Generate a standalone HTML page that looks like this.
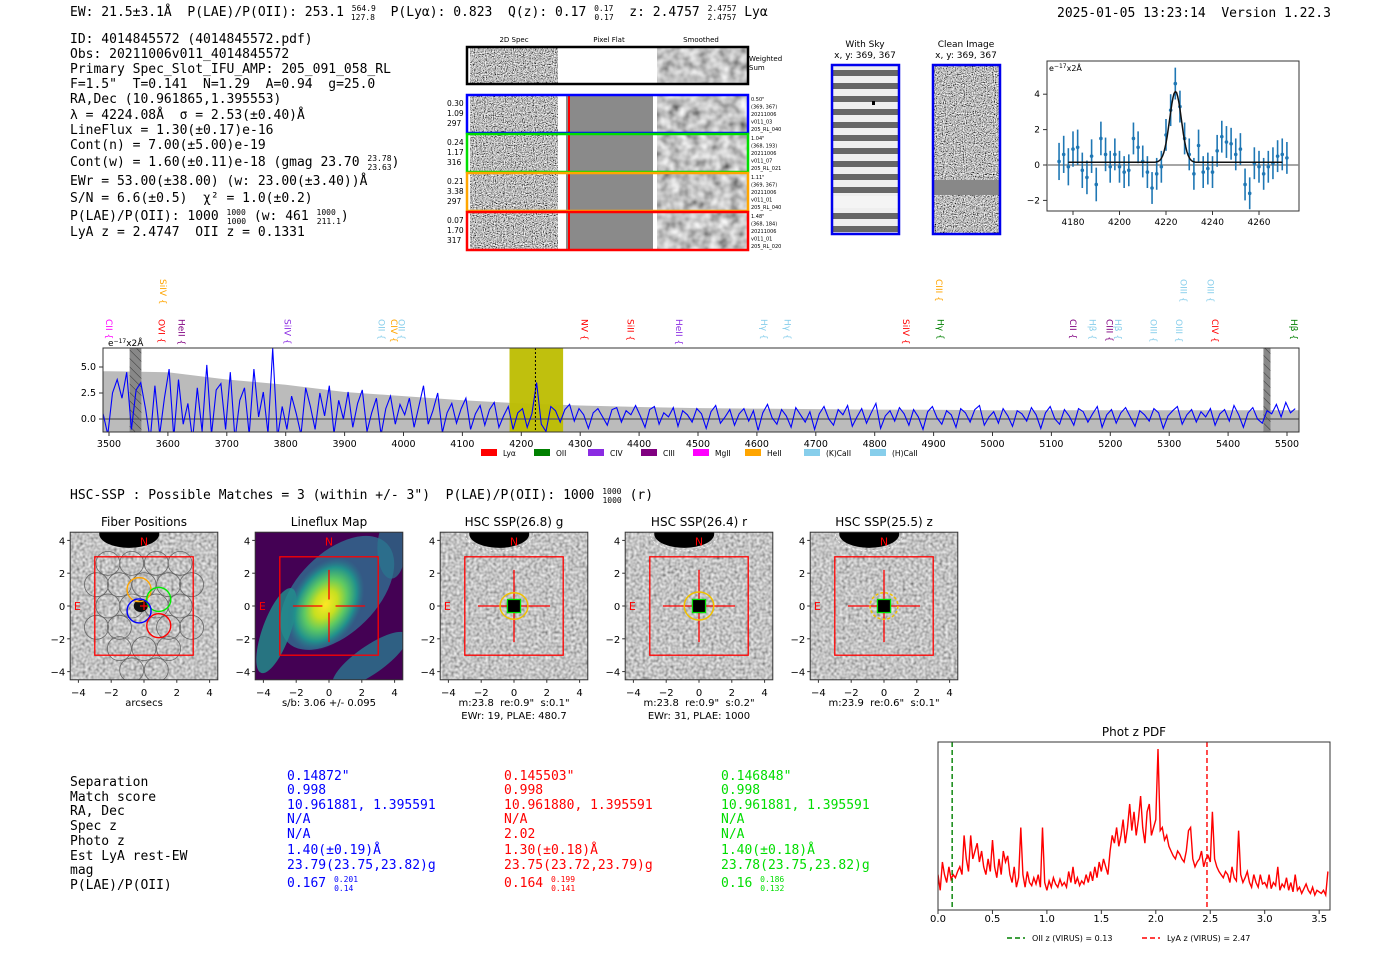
<!DOCTYPE html>
<html><head><meta charset="utf-8"><style>
html,body{margin:0;padding:0;background:#fff;width:1400px;height:953px;overflow:hidden}
svg{position:absolute;left:0;top:0}
text{white-space:pre}
.m{font-family:"DejaVu Sans Mono","Liberation Mono",monospace;font-size:13px}
.s{font-family:"DejaVu Sans","Liberation Sans",sans-serif}
</style></head><body>
<svg id="root" width="1400" height="953" viewBox="0 0 1400 953" xmlns="http://www.w3.org/2000/svg" xml:space="preserve">
<defs>
<filter id="noise" x="0" y="0" width="100%" height="100%"><feTurbulence type="fractalNoise" baseFrequency="0.9" numOctaves="1" seed="3"/><feColorMatrix type="saturate" values="0"/><feComponentTransfer><feFuncR type="linear" slope="3" intercept="-1"/><feFuncG type="linear" slope="3" intercept="-1"/><feFuncB type="linear" slope="3" intercept="-1"/><feFuncA type="linear" slope="0" intercept="1"/></feComponentTransfer></filter>
<filter id="noise2" x="0" y="0" width="100%" height="100%"><feTurbulence type="fractalNoise" baseFrequency="0.35" numOctaves="1" seed="7"/><feColorMatrix type="saturate" values="0"/><feComponentTransfer><feFuncR type="linear" slope="1.3" intercept="-0.1"/><feFuncG type="linear" slope="1.3" intercept="-0.1"/><feFuncB type="linear" slope="1.3" intercept="-0.1"/><feFuncA type="linear" slope="0" intercept="1"/></feComponentTransfer></filter>
<filter id="smooth" x="0" y="0" width="100%" height="100%"><feTurbulence type="fractalNoise" baseFrequency="0.1" numOctaves="2" seed="5"/><feColorMatrix type="saturate" values="0"/><feComponentTransfer><feFuncR type="linear" slope="1.4" intercept="-0.15"/><feFuncG type="linear" slope="1.4" intercept="-0.15"/><feFuncB type="linear" slope="1.4" intercept="-0.15"/><feFuncA type="linear" slope="0" intercept="1"/></feComponentTransfer></filter>
<pattern id="sky" width="10" height="13" patternUnits="userSpaceOnUse"><rect width="10" height="13" fill="#eee"/><rect y="5" width="10" height="6" fill="#666"/></pattern>
<pattern id="hatch" width="6" height="6" patternUnits="userSpaceOnUse" patternTransform="rotate(-45)"><rect width="6" height="6" fill="#888"/><line x1="0" y1="0" x2="0" y2="6" stroke="#333" stroke-width="1"/></pattern>
<radialGradient id="lf" cx="0.5" cy="0.5" r="0.5"><stop offset="0" stop-color="#fde725"/><stop offset="0.3" stop-color="#c8e020"/><stop offset="0.55" stop-color="#5ec962"/><stop offset="0.8" stop-color="#21918c"/><stop offset="1" stop-color="#2a788e" stop-opacity="0"/></radialGradient>
<clipPath id="specclip"><rect x="103" y="348" width="1196" height="84"/></clipPath>
<clipPath id="pdfclip"><rect x="938" y="742" width="392" height="168"/></clipPath>
</defs>

<text class="m" x="70" y="16">EW: 21.5±3.1Å  P(LAE)/P(OII): 253.1 <tspan font-size="8" dy="-5">564.9</tspan><tspan font-size="8" dx="-25" dy="9">127.8</tspan><tspan dy="-4">  P(Lyα): 0.823  Q(z): 0.17 </tspan><tspan font-size="8" dy="-5">0.17</tspan><tspan font-size="8" dx="-19" dy="9">0.17</tspan><tspan dy="-4">  z: 2.4757 </tspan><tspan font-size="8" dy="-5">2.4757</tspan><tspan font-size="8" dx="-29" dy="9">2.4757</tspan><tspan dy="-4"> Lyα</tspan></text>
<text class="m" x="1057" y="17">2025-01-05 13:23:14  Version 1.22.3</text>

<g class="m">
<text x="70" y="43">ID: 4014845572 (4014845572.pdf)</text>
<text x="70" y="58">Obs: 20211006v011_4014845572</text>
<text x="70" y="73">Primary Spec_Slot_IFU_AMP: 205_091_058_RL</text>
<text x="70" y="88">F=1.5"  T=0.141  N=1.29  A=0.94  g=25.0</text>
<text x="70" y="103">RA,Dec (10.961865,1.395553)</text>
<text x="70" y="119">λ = 4224.08Å  σ = 2.53(±0.40)Å</text>
<text x="70" y="134">LineFlux = 1.30(±0.17)e-16</text>
<text x="70" y="149">Cont(n) = 7.00(±5.00)e-19</text>
<text x="70" y="166">Cont(w) = 1.60(±0.11)e-18 (gmag 23.70 <tspan font-size="8" dy="-5">23.78</tspan><tspan font-size="8" dx="-24" dy="9">23.63</tspan><tspan dy="-4">)</tspan></text>
<text x="70" y="185">EWr = 53.00(±38.00) (w: 23.00(±3.40))Å</text>
<text x="70" y="202">S/N = 6.6(±0.5)  χ² = 1.0(±0.2)</text>
<text x="70" y="220">P(LAE)/P(OII): 1000 <tspan font-size="8" dy="-5">1000</tspan><tspan font-size="8" dx="-19" dy="9">1000</tspan><tspan dy="-4"> (w: 461 </tspan><tspan font-size="8" dy="-5">1000</tspan><tspan font-size="8" dx="-19" dy="9">211.1</tspan><tspan dy="-4">)</tspan></text>
<text x="70" y="236">LyA z = 2.4747  OII z = 0.1331</text>
</g>

<g>
<g class="s" font-size="7" text-anchor="middle"><text x="514" y="42">2D Spec</text><text x="609" y="42">Pixel Flat</text><text x="701" y="42">Smoothed</text></g>
<rect x="470" y="48" width="88" height="36" filter="url(#noise)"/>
<rect x="657" y="48" width="90" height="36" filter="url(#smooth)"/>
<rect x="467" y="47" width="281" height="37" fill="none" stroke="#000" stroke-width="2.5"/>
<text class="s" x="749" y="61" font-size="7">Weighted</text><text class="s" x="749" y="70" font-size="7">Sum</text>
<g id="rows"></g>
</g>

<g>
<text class="s" x="865" y="47" font-size="9" text-anchor="middle">With Sky</text>
<text class="s" x="865" y="58" font-size="9" text-anchor="middle">x, y: 369, 367</text>
<rect x="832" y="65" width="67" height="169" fill="url(#sky)"/>
<rect x="832" y="196" width="67" height="12" fill="#f4f4f4"/>
<rect x="872" y="101" width="3" height="4" fill="#000"/>
<rect x="832" y="65" width="67" height="169" fill="none" stroke="#0000ee" stroke-width="2.5"/>
</g>
<g>
<text class="s" x="966" y="47" font-size="9" text-anchor="middle">Clean Image</text>
<text class="s" x="966" y="58" font-size="9" text-anchor="middle">x, y: 369, 367</text>
<rect x="933" y="65" width="67" height="169" filter="url(#noise)"/>
<rect x="933" y="180" width="67" height="15" fill="#888"/>
<rect x="933" y="65" width="67" height="169" fill="none" stroke="#0000ee" stroke-width="2.5"/>
</g>

<g>
<rect x="1047" y="61" width="252" height="150" fill="#fff" stroke="#333"/>
<line x1="1047" x2="1299" y1="165" y2="165" stroke="#888" stroke-width="1.5"/>
<text class="s" x="1049" y="71" font-size="8">e<tspan font-size="6" dy="-3">−17</tspan><tspan dy="3">x2Å</tspan></text>
<g id="fitaxis" class="s" font-size="9"></g>
<g id="fitmarks"></g>
</g>

<g>
<rect x="103" y="348" width="1196" height="84" fill="#fff"/>
<g clip-path="url(#specclip)">
<path id="env" fill="#bbb"/>
<rect id="band" fill="#bdbd00"/>
<rect id="mask1" fill="url(#hatch)"/>
<rect id="mask2" fill="url(#hatch)"/>
<line id="zero" stroke="#555" stroke-width="1.2"/>
<path id="flux" fill="none" stroke="#0000ff" stroke-width="1.1"/>
<line id="cline" stroke="#000" stroke-dasharray="2,2" stroke-width="1"/>
</g>
<rect x="103" y="348" width="1196" height="84" fill="none" stroke="#333"/>
<text class="s" x="108" y="346" font-size="9">e<tspan font-size="6" dy="-3">−17</tspan><tspan dy="3">x2Å</tspan></text>
<g id="specaxis" class="s" font-size="9.5"></g>
<g id="linelabels" class="s" font-size="9"></g>
<g id="speclegend" class="s" font-size="7.5"></g>
</g>

<text class="m" x="70" y="499">HSC-SSP : Possible Matches = 3 (within +/- 3")  P(LAE)/P(OII): 1000 <tspan font-size="8" dy="-5">1000</tspan><tspan font-size="8" dx="-19" dy="9">1000</tspan><tspan dy="-4"> (r)</tspan></text>

<g id="cutouts"></g>

<g class="m">
<g fill="#000"><text x="70" y="786">Separation</text><text x="70" y="801">Match score</text><text x="70" y="815">RA, Dec</text><text x="70" y="830">Spec z</text><text x="70" y="845">Photo z</text><text x="70" y="860">Est LyA rest-EW</text><text x="70" y="874">mag</text><text x="70" y="889">P(LAE)/P(OII)</text></g>
<g fill="#0000ff"><text x="287" y="780">0.14872"</text><text x="287" y="794">0.998</text><text x="287" y="809">10.961881, 1.395591</text><text x="287" y="823">N/A</text><text x="287" y="838">N/A</text><text x="287" y="854">1.40(±0.19)Å</text><text x="287" y="869">23.79(23.75,23.82)g</text><text x="287" y="887">0.167 <tspan font-size="8" dy="-5">0.201</tspan><tspan font-size="8" dx="-24" dy="9">0.14</tspan></text></g>
<g fill="#ff0000"><text x="504" y="780">0.145503"</text><text x="504" y="794">0.998</text><text x="504" y="809">10.961880, 1.395591</text><text x="504" y="823">N/A</text><text x="504" y="838">2.02</text><text x="504" y="854">1.30(±0.18)Å</text><text x="504" y="869">23.75(23.72,23.79)g</text><text x="504" y="887">0.164 <tspan font-size="8" dy="-5">0.199</tspan><tspan font-size="8" dx="-24" dy="9">0.141</tspan></text></g>
<g fill="#00dd00"><text x="721" y="780">0.146848"</text><text x="721" y="794">0.998</text><text x="721" y="809">10.961881, 1.395591</text><text x="721" y="823">N/A</text><text x="721" y="838">N/A</text><text x="721" y="854">1.40(±0.18)Å</text><text x="721" y="869">23.78(23.75,23.82)g</text><text x="721" y="887">0.16 <tspan font-size="8" dy="-5">0.186</tspan><tspan font-size="8" dx="-24" dy="9">0.132</tspan></text></g>
</g>

<g>
<text class="s" x="1134" y="736" font-size="12" text-anchor="middle">Phot z PDF</text>
<g clip-path="url(#pdfclip)"><path id="pdf" fill="none" stroke="#ff0000" stroke-width="1.4"/>
<line id="oiiz" stroke="#008000" stroke-width="1.4" stroke-dasharray="5,3"/>
<line id="lyaz" stroke="#ff0000" stroke-width="1.4" stroke-dasharray="5,3"/></g>
<rect x="938" y="742" width="392" height="168" fill="none" stroke="#333"/>
<g id="pdfaxis" class="s" font-size="10"></g>
<g class="s" font-size="8">
<line x1="1007" x2="1025" y1="938" y2="938" stroke="#008000" stroke-width="1.4" stroke-dasharray="5,3"/><text x="1032" y="941">OII z (VIRUS) = 0.13</text>
<line x1="1142" x2="1160" y1="938" y2="938" stroke="#ff0000" stroke-width="1.4" stroke-dasharray="5,3"/><text x="1167" y="941">LyA z (VIRUS) = 2.47</text>
</g>
</g>
</svg>
<script>
const NS='http://www.w3.org/2000/svg';
function mk(tag,attrs,parent){const e=document.createElementNS(NS,tag);for(const k in attrs)e.setAttribute(k,attrs[k]);if(parent)parent.appendChild(e);return e;}

const specStart=3490, specStep=8;
const fluxEarly=[0.5,-1.5,2.5,3.8,2.0,4.5,-1,2.8,3.5,1.0,-2,3.2,-1.5,2.0,4.8,-1.8,3.8,-0.5,1.5,-2,3.0,-1.2,5.2,-1.5,2.8,3.4,-1.0,4.5,-2.0,1.8,3.0,-1.5,4.8,0.2,2.6,-1.4,6.8,-1.8,1.2];
const fluxMid1=[-1.0,2.2,0.5,-1.5,3.0,1.2,-1.0,2.5,0.3,3.2,-1.4,1.8,0.0,2.6,-0.8,1.5,2.8,-1.2,0.6,2.0,-1.5,1.0,2.2,-0.5,1.4];
const fluxMid2=[0.4,2.0,-0.8,1.2,3.2,-0.5,0.8,2.5,-1.3,0.6,1.5,-0.4,1.0,2.0,-1.0,0.5,1.3,-0.6,0.9,1.6,-0.8,0.3,1.2,-1.0,0.6];
const fluxMid3=[1.0,-0.8,0.5,3.5,-0.5,-1.2,1.2,0.8,-0.3,0.9,1.4,-0.2,1.0,0.4,-0.9,0.6,1.0,0.2,-0.6,0.9,1.1,-0.3,0.8,0.4,1.3];
const fluxLate=[0.3,-0.8,0.9,1.2,-0.5,0.6,0.2,1.1,-0.7,0.8,0.4,-0.3,1.0,0.5,-0.9,0.7,1.3,-0.4,0.2,0.9,
-0.6,0.5,1.0,-0.2,0.8,-1.1,0.6,1.4,0.1,-0.5,0.9,0.3,-0.8,1.1,0.4,-0.3,0.7,-1.0,0.5,1.2,
0.0,-0.6,0.9,0.4,1.3,-0.7,0.2,1.0,-0.4,0.6,1.5,-0.9,0.3,0.8,-0.2,1.1,0.5,-0.6,0.9,0.2,
-1.0,0.7,1.2,0.1,-0.5,0.8,0.4,-0.8,1.0,0.6,-0.3,0.9,1.3,-0.6,0.2,0.7,-0.4,1.0,0.3,-0.7,
0.8,0.5,-0.2,1.1,0.4,-0.9,0.6,1.2,0.0,-0.5,0.9,0.3,-0.6,1.0,0.7,-0.3,0.5,1.2,-0.8,0.4,
0.9,-0.4,0.6,1.1,0.2,-0.7,0.8,0.4,-0.2,1.0,0.6,-0.9,0.3,0.8,1.2,-0.5,0.4,0.9,-0.3,0.7,
0.2,1.0,-0.6,0.5,0.9,-0.2,1.3,0.4,-0.8,0.6,1.1,0.0,-0.4,0.8,0.5,1.4,0.2,1.6,0.6,1.0];
const envWave=[3490,3500,3600,3700,3800,3900,4000,4100,4200,4300,4400,4500,4600,4700,4800,4900,5000,5100,5200,5300,5400,5500,5520];
const envVal=[4.6,4.6,4.5,3.8,3.3,2.6,2.2,1.8,1.5,1.3,1.15,1.05,1.0,0.95,0.9,0.88,0.85,0.85,0.85,0.85,0.85,0.85,0.85];
const specTicks=[3500,3600,3700,3800,3900,4000,4100,4200,4300,4400,4500,4600,4700,4800,4900,5000,5100,5200,5300,5400,5500];
const specYTicks=[0.0,2.5,5.0];
const lineCenter=4224, bandLo=4180, bandHi=4271;
const maskRegions=[[3535,3555],[5460,5472]];
const lineNames=['CII','SiIV','OVI','HeII','SiIV','OII','CIV','OII','NV','SiII','HeII','Hγ','Hγ','SiIV','CIII','Hγ','CII','Hβ','CIII','Hβ','OIII','OIII','OIII','OIII','CIV','Hβ'];
const lineWaves=[3500,3592,3589,3623,3803,3963,3984,3997,4307,4385,4468,4612,4652,4853,4909,4912,5137,5170,5199,5213,5273,5317,5324,5370,5378,5512];
const lineTier=[0,1,0,0,0,0,0,0,0,0,0,0,0,0,1,0,0,0,0,0,0,0,1,1,0,0];
const lineColors=['#ff00ff','#ffa500','#ff0000','#800080','#8a2be2','#87ceeb','#ffa500','#87ceeb','#ff0000','#ff0000','#8a2be2','#87ceeb','#87ceeb','#ff0000','#ffa500','#008000','#800080','#87ceeb','#800080','#87ceeb','#87ceeb','#87ceeb','#87ceeb','#87ceeb','#ff0000','#008000'];
const legendNames=['Lyα','OII','CIV','CIII','MgII','HeII','(K)CaII','(H)CaII'];
const legendColors=['#ff0000','#008000','#8a2be2','#800080','#ff00ff','#ffa500','#87ceeb','#87ceeb'];

const sx=w=>109+(w-3500)*0.589, sy=v=>419-v*10.4;
const flux=[].concat(fluxEarly,fluxMid1,fluxMid2,fluxMid3,fluxLate);
let d='';flux.forEach((v,i)=>{d+=(i?'L':'M')+sx(specStart+i*specStep).toFixed(1)+','+sy(v).toFixed(1);});
document.getElementById('flux').setAttribute('d',d);
let e='M'+sx(envWave[0])+','+sy(-2);envWave.forEach((w,i)=>{e+='L'+sx(w).toFixed(1)+','+sy(envVal[i]).toFixed(1);});e+='L'+sx(5520)+','+sy(-2)+'Z';
document.getElementById('env').setAttribute('d',e);
const band=document.getElementById('band');band.setAttribute('x',sx(bandLo));band.setAttribute('width',sx(bandHi)-sx(bandLo));band.setAttribute('y',348);band.setAttribute('height',84);band.setAttribute('opacity','0.95');
['mask1','mask2'].forEach((id,i)=>{const r=document.getElementById(id);r.setAttribute('x',sx(maskRegions[i][0]));r.setAttribute('width',sx(maskRegions[i][1])-sx(maskRegions[i][0]));r.setAttribute('y',348);r.setAttribute('height',84);});
const z=document.getElementById('zero');z.setAttribute('x1',103);z.setAttribute('x2',1299);z.setAttribute('y1',sy(0));z.setAttribute('y2',sy(0));
const cl=document.getElementById('cline');cl.setAttribute('x1',sx(lineCenter));cl.setAttribute('x2',sx(lineCenter));cl.setAttribute('y1',348);cl.setAttribute('y2',432);
const sa=document.getElementById('specaxis');
specTicks.forEach(t=>{mk('line',{x1:sx(t),x2:sx(t),y1:432,y2:436,stroke:'#333'},sa);const tx=mk('text',{x:sx(t),y:447,'text-anchor':'middle'},sa);tx.textContent=t;

});
specYTicks.forEach(t=>{mk('line',{x1:99,x2:103,y1:sy(t),y2:sy(t),stroke:'#333'},sa);const tx=mk('text',{x:96,y:sy(t)+3,'text-anchor':'end'},sa);tx.textContent=t.toFixed(1);

});
const ll=document.getElementById('linelabels');
lineNames.forEach((n,i)=>{const x=sx(lineWaves[i]);const yb=lineTier[i]?305:345;const t=mk('text',{x:0,y:0,fill:lineColors[i],transform:`translate(${x-3},${yb-26}) rotate(90)`},ll);t.textContent=n+' {';

});
const lg=document.getElementById('speclegend');
const legX=[481,534,588,641,693,745,804,870];
legendNames.forEach((n,i)=>{const r=mk('rect',{x:legX[i],y:449,width:16,height:7,fill:legendColors[i]},lg);


const t=mk('text',{x:legX[i]+22,y:456},lg);t.textContent=n;

});

const fitWave=[4174,4176,4178,4180,4182,4184,4186,4188,4190,4192,4194,4196,4198,4200,4202,4204,4206,4208,4210,4212,4214,4216,4218,4220,4222,4224,4226,4228,4230,4232,4234,4236,4238,4240,4242,4244,4246,4248,4250,4252,4254,4256,4258,4260,4262,4264,4266,4268,4270,4272];
const fitFlux=[0.2,0.6,-0.1,0.9,1.0,-0.3,-0.7,0.5,-1.1,1.5,0.6,-0.1,0.6,-0.1,-0.4,-0.3,1.5,1.0,0.2,-0.4,-1.3,-0.5,-0.1,1.7,3.1,4.6,3.3,1.5,0.6,-0.5,1.1,-0.4,-0.2,-0.4,0.8,1.6,1.3,1.2,0.6,0.9,-1.1,-1.6,0.1,-0.1,-0.5,-0.1,0.1,0.5,0.6,0.4];
const fitErr=[1.05,1.05,1.05,1.0,1.0,1.0,0.95,0.95,0.95,0.95,0.95,0.9,0.9,0.9,0.9,0.9,0.9,0.9,0.9,0.9,0.9,0.9,0.9,0.9,0.9,0.9,0.9,0.9,0.9,0.9,0.9,0.9,0.9,0.9,0.9,0.9,0.9,0.9,0.9,0.9,0.9,0.9,0.9,0.9,0.9,0.9,0.9,0.9,0.9,0.9];
const fitXTicks=[4180,4200,4220,4240,4260], fitYTicks=[-2,0,2,4];
const gAmp=4.0,gMu=4224.08,gSig=2.53,gCont=0.15,gLo=4178,gHi=4270;
const fx=w=>1073+(w-4180)*2.325, fy=v=>165-v*17.7;
const fm=document.getElementById('fitmarks'), fa=document.getElementById('fitaxis');
fitWave.forEach((w,i)=>{const l=mk('line',{x1:fx(w),x2:fx(w),y1:fy(fitFlux[i]-fitErr[i]),y2:fy(fitFlux[i]+fitErr[i]),stroke:'#1f77b4','stroke-width':1.6},fm);


const c=mk('circle',{cx:fx(w),cy:fy(fitFlux[i]),r:1.8,fill:'#1f77b4'},fm);

});
let gd='';for(let w=gLo;w<=gHi;w+=0.5){const v=gCont+gAmp*Math.exp(-0.5*((w-gMu)/gSig)**2);gd+=(w===gLo?'M':'L')+fx(w).toFixed(1)+','+fy(v).toFixed(1);}
const gp=mk('path',{d:gd,fill:'none',stroke:'#111','stroke-width':1.5},fm);


fitXTicks.forEach(t=>{mk('line',{x1:fx(t),x2:fx(t),y1:211,y2:215,stroke:'#333'},fa);const tx=mk('text',{x:fx(t),y:225,'text-anchor':'middle'},fa);tx.textContent=t;});
fitYTicks.forEach(t=>{mk('line',{x1:1043,x2:1047,y1:fy(t),y2:fy(t),stroke:'#333'},fa);const tx=mk('text',{x:1040,y:fy(t)+3,'text-anchor':'end'},fa);tx.textContent=t<0?'−'+(-t):t;});

const rowColors=['#0000ff','#00dd00','#ffa500','#ff0000'];
const rowLeft=[['0.30','1.09','297'],['0.24','1.17','316'],['0.21','3.38','297'],['0.07','1.70','317']];
const rowRight=[['0.50"','(369, 367)','20211006','v011_03','205_RL_040'],['1.04"','(368, 193)','20211006','v011_07','205_RL_021'],['1.11"','(369, 367)','20211006','v011_01','205_RL_040'],['1.48"','(368, 184)','20211006','v011_01','205_RL_020']];
const rows=document.getElementById('rows');
rowColors.forEach((c,i)=>{const y=95+i*39;
mk('rect',{x:470,y:y,width:88,height:38,filter:'url(#noise)'},rows);
mk('rect',{x:566,y:y,width:88,height:38,fill:'#8a8a8a'},rows);
mk('rect',{x:568,y:y,width:2,height:38,fill:'#ff0000'},rows);
mk('rect',{x:653,y:y,width:3,height:38,fill:'#fff'},rows);
mk('rect',{x:657,y:y,width:90,height:38,filter:'url(#smooth)'},rows);
const r=mk('rect',{x:467,y:y,width:281,height:38,fill:'none',stroke:c,'stroke-width':2.5},rows);


rowLeft[i].forEach((s,j)=>{const t=mk('text',{x:447,y:y+11+j*10,'font-size':7.5,'font-family':'DejaVu Sans, sans-serif'},rows);t.textContent=s;});
rowRight[i].forEach((s,j)=>{const t=mk('text',{x:751,y:y+6+j*7.5,'font-size':5,'font-family':'DejaVu Sans, sans-serif'},rows);t.textContent=s;});
});

const panelTitles=['Fiber Positions','Lineflux Map','HSC SSP(26.8) g','HSC SSP(26.4) r','HSC SSP(25.5) z'];
const panelSub1=['arcsecs','s/b: 3.06 +/- 0.095','m:23.8  re:0.9"  s:0.1"','m:23.8  re:0.9"  s:0.2"','m:23.9  re:0.6"  s:0.1"'];
const panelSub2=['','','EWr: 19, PLAE: 480.7','EWr: 31, PLAE: 1000',''];
const cutTicks=[-4,-2,0,2,4];
const fiberX=[-2.9,-1.5,0,1.5,2.9,-2.2,-0.75,0.75,2.2,-2.9,-1.5,1.5,2.9,-2.2,-0.75,0.75,2.2,-1.5,0,1.5,-0.75,0.75];
const fiberY=[1.3,1.3,1.3,1.3,1.3,2.6,2.6,2.6,2.6,-1.3,-1.3,-1.3,-1.3,0,0,0,0,-2.6,-2.6,-2.6,-3.9,-3.9];
const cut=document.getElementById('cutouts');
const defs=document.querySelector('defs');
panelTitles.forEach((t,i)=>{
const cx=144+i*185, cy=606, s=16.4, X=v=>cx+v*s, Y=v=>cy-v*s;
const x0=X(-4.5),y0=Y(4.5),w=9*s;
const cp=mk('clipPath',{id:'cp'+i},defs);mk('rect',{x:x0,y:y0,width:w,height:w},cp);
const g=mk('g',{},cut);


const gi=mk('g',{'clip-path':`url(#cp${i})`},g);
if(i===1){mk('rect',{x:x0,y:y0,width:w,height:w,fill:'#440154'},gi);
mk('ellipse',{cx:X(0.5),cy:Y(0.8),rx:70,ry:40,fill:'#31688e',opacity:0.85,transform:`rotate(-45 ${X(0.5)} ${Y(0.8)})`},gi);
mk('ellipse',{cx:X(-3.2),cy:Y(-1.5),rx:14,ry:45,fill:'#21918c',opacity:0.8,transform:`rotate(20 ${X(-3.2)} ${Y(-1.5)})`},gi);
mk('ellipse',{cx:X(2.5),cy:Y(-3.3),rx:45,ry:14,fill:'#2a788e',opacity:0.8,transform:`rotate(-35 ${X(2.5)} ${Y(-3.3)})`},gi);
mk('ellipse',{cx:X(3.8),cy:Y(3.5),rx:14,ry:30,fill:'#2a788e',opacity:0.7},gi);
mk('ellipse',{cx:X(-0.2),cy:Y(0.1),rx:50,ry:34,fill:'url(#lf)',transform:`rotate(-60 ${X(-0.2)} ${Y(0.1)})`},gi);}
else{mk('rect',{x:x0,y:y0,width:w,height:w,filter:'url(#noise2)'},gi);
mk('ellipse',{cx:X(-0.9),cy:Y(4.4),rx:30,ry:14,fill:'#000'},gi);
if(i>=2)mk('ellipse',{cx:X(-0.9),cy:Y(4.4),rx:34,ry:17,fill:'none',stroke:'#fff','stroke-width':0.7,'stroke-dasharray':'2,2'},gi);}
mk('rect',{x:x0,y:y0,width:w,height:w,fill:'none',stroke:'#333'},g);
if(i===0){fiberX.forEach((fx_,k)=>mk('circle',{cx:X(fx_),cy:Y(fiberY[k]),r:12,fill:'none',stroke:'#666','stroke-width':0.8},gi));
mk('ellipse',{cx:X(-0.2),cy:Y(0),rx:7,ry:6,fill:'#111'},g);
[['#ffa500',-0.3,1.0],['#00ee00',0.9,0.4],['#0000ff',-0.3,-0.3],['#ff0000',0.9,-1.2]].forEach(a=>{const c=mk('circle',{cx:X(a[1]),cy:Y(a[2]),r:12,fill:'none',stroke:a[0],'stroke-width':1.4},g);

});
mk('path',{d:`M${X(0)-4},${Y(0)}h8M${X(0)},${Y(0)-4}v8`,stroke:'#ff0000','stroke-width':1.2},g);}
if(i>=2){mk('path',{d:`M${X(-2.2)},${Y(0)}H${X(-0.4)}M${X(0.4)},${Y(0)}H${X(2.2)}M${X(0)},${Y(2.2)}V${Y(0.4)}M${X(0)},${Y(-0.4)}V${Y(-2.2)}`,stroke:'#ff0000','stroke-width':1.3},g);
const er=[0.85,0.9,0.85][i-2];mk('ellipse',{cx:X(0),cy:Y(0),rx:er*s,ry:er*s*0.95,fill:'none',stroke:'#f0c000','stroke-width':1.5,'stroke-dasharray':i===4?'3,2':'none'},g);
mk('rect',{x:X(-0.4),y:Y(0.4),width:0.8*s,height:0.8*s,fill:'#000',stroke:'#00dd00','stroke-width':1.3},g);}
if(i===1){mk('path',{d:`M${X(-2.2)},${Y(0)}H${X(-0.4)}M${X(0.4)},${Y(0)}H${X(2.2)}M${X(0)},${Y(2.2)}V${Y(0.4)}M${X(0)},${Y(-0.4)}V${Y(-2.2)}`,stroke:'#ff0000','stroke-width':1.3},g);}
mk('rect',{x:X(-3),y:Y(3),width:6*s,height:6*s,fill:'none',stroke:'#ff0000','stroke-width':1.3},g);
const tN=mk('text',{x:X(0),y:Y(4)+5,fill:'#ff0000','font-size':11,'text-anchor':'middle','font-family':'DejaVu Sans, sans-serif'},g);tN.textContent='N';
const tE=mk('text',{x:X(-4)-1,y:Y(0)+4,fill:'#ff0000','font-size':11,'text-anchor':'middle','font-family':'DejaVu Sans, sans-serif'},g);tE.textContent='E';
const tt=mk('text',{x:cx,y:526,'font-size':12,'text-anchor':'middle','font-family':'DejaVu Sans, sans-serif'},g);tt.textContent=t;


cutTicks.forEach(v=>{mk('line',{x1:X(v),x2:X(v),y1:y0+w,y2:y0+w+3,stroke:'#333'},g);const a=mk('text',{x:X(v),y:696,'font-size':10,'text-anchor':'middle','font-family':'DejaVu Sans, sans-serif'},g);a.textContent=v<0?'−'+(-v):v;
mk('line',{x1:x0-3,x2:x0,y1:Y(v),y2:Y(v),stroke:'#333'},g);const b=mk('text',{x:x0-5,y:Y(v)+4,'font-size':10,'text-anchor':'end','font-family':'DejaVu Sans, sans-serif'},g);b.textContent=v<0?'−'+(-v):v;});
const s1=mk('text',{x:cx,y:706,'font-size':10,'text-anchor':'middle','font-family':'DejaVu Sans, sans-serif'},g);s1.textContent=panelSub1[i];
if(panelSub2[i]){const s2=mk('text',{x:cx,y:719,'font-size':10,'text-anchor':'middle','font-family':'DejaVu Sans, sans-serif'},g);s2.textContent=panelSub2[i];}
});

const pdfStart=0, pdfStep=0.02;
const pdfVals=[0.2,0.1,0.28,0.2,0.15,0.25,0.17,0.2,0.18,0.22,0.25,0.2,0.45,0.3,0.22,0.45,0.3,0.35,0.4,0.28,0.35,0.25,0.2,0.3,0.22,
0.42,0.25,0.18,0.3,0.2,0.35,0.28,0.32,0.2,0.15,0.25,0.12,0.18,0.5,0.2,0.12,0.22,0.15,0.13,0.18,0.14,0.2,0.12,0.5,0.15,
0.1,0.16,0.12,0.18,0.14,0.12,0.17,0.13,0.15,0.12,0.22,0.15,0.25,0.14,0.18,0.13,0.16,0.14,0.2,0.15,0.22,0.16,0.25,0.18,0.28,
0.22,0.3,0.25,0.2,0.35,0.45,0.4,0.5,0.38,0.45,0.55,0.4,0.5,0.65,0.48,0.6,0.45,0.55,0.7,0.5,0.4,0.6,0.65,0.45,0.5,
0.55,1.0,0.48,0.5,0.42,0.45,0.38,0.35,0.32,0.3,0.35,0.33,0.3,0.28,0.35,0.48,0.5,0.3,0.25,0.28,0.3,0.35,0.25,0.3,0.32,
0.28,0.6,0.3,0.25,0.22,0.2,0.18,0.22,0.2,0.15,0.25,0.18,0.16,0.48,0.2,0.15,0.18,0.22,0.15,0.12,0.2,0.15,0.12,0.2,0.14,
0.15,0.12,0.2,0.11,0.15,0.13,0.25,0.1,0.14,0.12,0.18,0.1,0.15,0.09,0.2,0.1,0.12,0.08,0.11,0.14,0.1,0.08,0.12,0.07,0.1,0.09,0.08,0.1,0.07,0.22];
const pdfTicks=[0.0,0.5,1.0,1.5,2.0,2.5,3.0,3.5];
const oiiZ=0.13, lyaZ=2.47;
const px=zv=>938+zv*108.9, py=v=>906-v*157;
let pd='';pdfVals.forEach((v,i)=>{pd+=(i?'L':'M')+px(pdfStart+i*pdfStep).toFixed(1)+','+py(v).toFixed(1);});
document.getElementById('pdf').setAttribute('d',pd);
[['oiiz',oiiZ],['lyaz',lyaZ]].forEach(a=>{const l=document.getElementById(a[0]);l.setAttribute('x1',px(a[1]));l.setAttribute('x2',px(a[1]));l.setAttribute('y1',742);l.setAttribute('y2',910);});
const pa=document.getElementById('pdfaxis');
pdfTicks.forEach(t=>{mk('line',{x1:px(t),x2:px(t),y1:910,y2:914,stroke:'#333'},pa);const tx=mk('text',{x:px(t),y:922,'text-anchor':'middle'},pa);tx.textContent=t.toFixed(1);

});
</script>
</body></html>
